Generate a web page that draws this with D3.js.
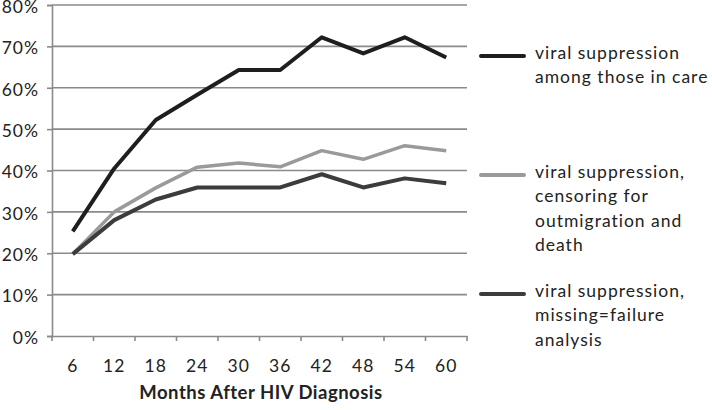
<!DOCTYPE html>
<html><head><meta charset="utf-8">
<script src="https://cdn.jsdelivr.net/npm/d3@7"></script>
<style>body{margin:0;background:#fff}svg{display:block}text{font-family:Lato,"Open Sans",sans-serif}</style>
</head><body>
<svg id="c" width="712" height="410"></svg>
<script>
const months = ["6","12","18","24","30","36","42","48","54","60"];
const inCare = [25.3, 40.5, 52.2, 58.3, 64.3, 64.3, 72.2, 68.3, 72.2, 67.3];
const censoring = [19.8, 30.0, 35.8, 40.8, 41.8, 40.9, 44.8, 42.7, 46.0, 44.8];
const missingFailure = [19.8, 28.0, 33.0, 35.9, 35.9, 35.9, 39.1, 35.9, 38.1, 36.9];
const yTicks = [0,10,20,30,40,50,60,70,80];
const seriesNames = [
  ["viral suppression","among those in care"],
  ["viral suppression,","censoring for","outmigration and","death"],
  ["viral suppression,","missing=failure","analysis"]
];
const xTitle = "Months After HIV Diagnosis";

const svg = d3.select("#c");
const x = d3.scaleBand().domain(months).range([52, 467]);
const y = d3.scaleLinear().domain([0, 80]).range([336, 5]);
const FS = 17.5, LS = "1px";

// gridlines
svg.append("g").selectAll("line").data(yTicks.filter(d=>d>0)).join("line")
  .attr("x1", 52).attr("x2", 467).attr("y1", d=>y(d)).attr("y2", d=>y(d))
  .attr("stroke", "#8a8a8a").attr("stroke-width", 1.6);

// y axis
const ya = svg.append("g").attr("transform","translate(52,0)")
  .call(d3.axisLeft(y).tickValues(yTicks).tickFormat(d=>d+"%").tickSize(5).tickPadding(8));
ya.select(".domain").attr("stroke","#8a8a8a").attr("stroke-width",1.6);
ya.selectAll(".tick line").attr("stroke","#8a8a8a").attr("stroke-width",1.6);
ya.selectAll("text").attr("font-size",FS).attr("fill","#222").attr("letter-spacing",LS).attr("dy","0.42em");

// x axis
const xa = svg.append("g").attr("transform","translate(0,336)")
  .call(d3.axisBottom(x).tickSize(0).tickPadding(24));
xa.select(".domain").attr("stroke","#8a8a8a").attr("stroke-width",1.6);
xa.selectAll("text").attr("font-size",FS).attr("fill","#222").attr("letter-spacing",LS);
xa.selectAll("line.bt").data(months.concat(["end"])).join("line").attr("class","bt")
  .attr("x1",(d,i)=>52+i*x.bandwidth()).attr("x2",(d,i)=>52+i*x.bandwidth())
  .attr("y1",0).attr("y2",5).attr("stroke","#8a8a8a").attr("stroke-width",1.6);

svg.append("text").attr("x", 261).attr("y", 399).attr("text-anchor","middle")
  .attr("font-size",18.5).attr("font-weight","bold").attr("letter-spacing","0.5px").attr("fill","#222").text(xTitle);

const series = [
  {vals: inCare, color:"#1e1e1e", w:4},
  {vals: censoring, color:"#9a9a9a", w:3.5},
  {vals: missingFailure, color:"#3c3c3c", w:4}
];
const line = d3.line().x((d,i)=>x(months[i])+x.bandwidth()/2).y(d=>y(d));
[series[1], series[2], series[0]].forEach(s=>{
  svg.append("path").attr("d", line(s.vals)).attr("fill","none")
    .attr("stroke", s.color).attr("stroke-width", s.w).attr("stroke-linejoin","round");
});

// legend
const legY = [56, 175, 294];
seriesNames.forEach((lines, k)=>{
  svg.append("line").attr("x1",481).attr("x2",524).attr("y1",legY[k]).attr("y2",legY[k])
    .attr("stroke", series[k].color).attr("stroke-width",4).attr("stroke-linecap","round");
  const t = svg.append("text").attr("x",535).attr("y",legY[k]+3).attr("font-size",FS)
    .attr("letter-spacing",LS).attr("fill","#222");
  lines.forEach((s,j)=>{
    t.append("tspan").attr("x",535).attr("dy", j===0 ? 0 : 24.3).text(s);
  });
});
</script>
</body></html>
